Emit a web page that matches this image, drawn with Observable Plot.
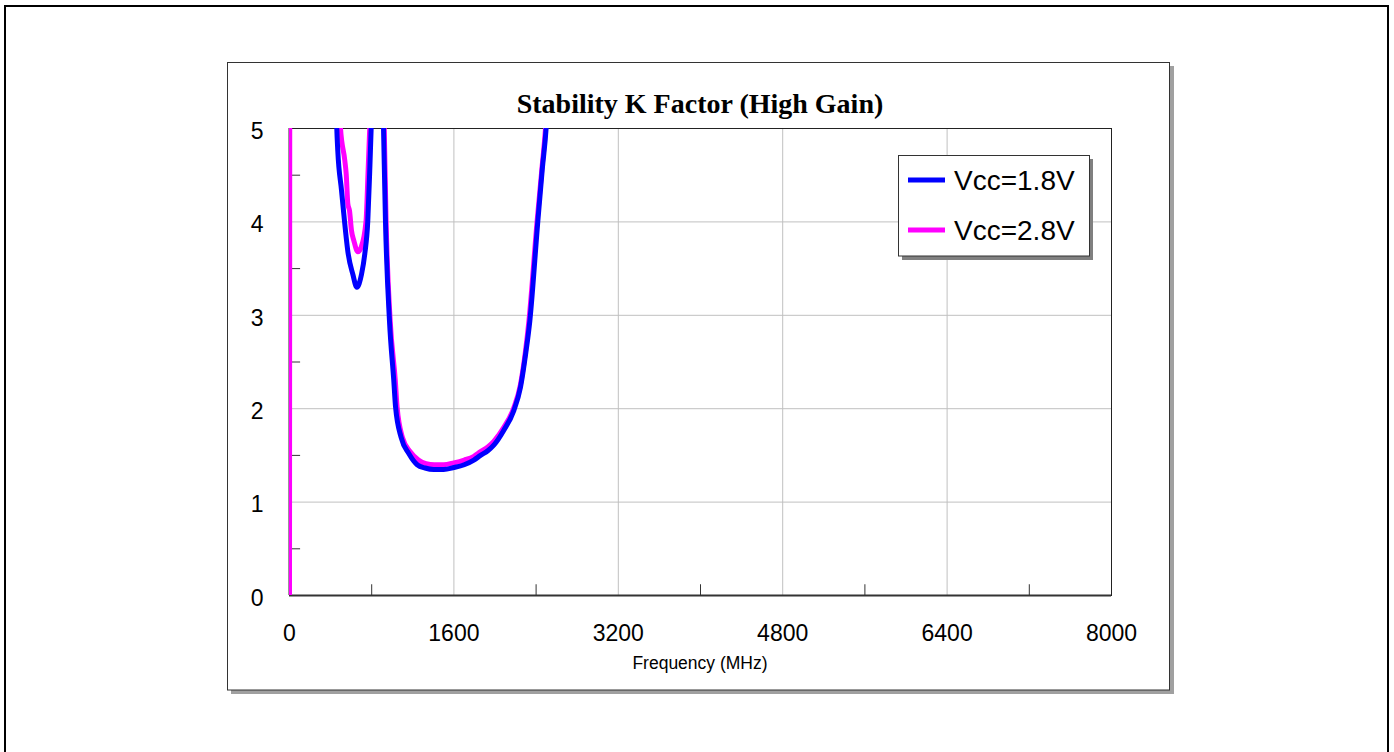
<!DOCTYPE html>
<html><head><meta charset="utf-8">
<script src="https://cdn.jsdelivr.net/npm/d3@7"></script>
<script src="https://cdn.jsdelivr.net/npm/@observablehq/plot@0.6"></script>
<style>html,body{margin:0;padding:0;background:#fff;overflow:hidden} svg{display:block}</style>
</head><body><div id="chart"></div>
<script>
// ---- data ----
const freq18 = [10, 420, 460, 470, 506, 528, 571, 616, 655, 701, 733, 762, 781, 795, 850, 915, 934, 973, 1015, 1032, 1087, 1161, 1243, 1320, 1404, 1500, 1599, 1700, 1794, 1859, 1930, 1988, 2086, 2183, 2248, 2300, 2339, 2417, 2459, 2498, 2600];
const k18    = [8, 8, 5.01, 4.76, 4.34, 4.09, 3.66, 3.44, 3.30, 3.44, 3.66, 4.01, 4.55, 5.01, 8, 5.01, 4.01, 2.94, 2.30, 2.02, 1.69, 1.52, 1.40, 1.365, 1.35, 1.35, 1.37, 1.40, 1.45, 1.50, 1.55, 1.61, 1.77, 1.98, 2.23, 2.60, 2.94, 4.01, 4.55, 5.01, 8];
const freq28 = [0, 5, 440, 496, 538, 552, 568, 584, 603, 626, 665, 698, 745, 765, 781, 850, 922, 940, 980, 1030, 1047, 1100, 1175, 1255, 1330, 1410, 1500, 1599, 1700, 1794, 1859, 1930, 1988, 2086, 2183, 2248, 2295, 2330, 2410, 2455, 2492, 2600];
const k28    = [0, 8, 8, 5.01, 4.66, 4.51, 4.19, 4.12, 3.91, 3.80, 3.68, 3.73, 4.01, 4.55, 5.01, 8, 5.01, 4.01, 2.94, 2.30, 2.02, 1.69, 1.54, 1.45, 1.41, 1.40, 1.40, 1.42, 1.45, 1.49, 1.54, 1.59, 1.65, 1.80, 2.01, 2.26, 2.60, 2.94, 4.01, 4.55, 5.01, 8];
const xTicks = [0, 1600, 3200, 4800, 6400, 8000];
const xMinor = [800, 2400, 4000, 5600, 7200];
const yTicks = [0, 1, 2, 3, 4, 5];
const yMinor = [0.5, 1.5, 2.5, 3.5, 4.5];
const seriesNames = ["Vcc=1.8V", "Vcc=2.8V"];
const seriesColors = ["#0000ff", "#ff00ff"];
const titleText = "Stability K Factor (High Gain)";
const xLabelText = "Frequency (MHz)";

const d18 = freq18.map((f, i) => ({f, k: k18[i]}));
const d28 = freq28.map((f, i) => ({f, k: k28[i]}));
const sans = "'Liberation Sans', Arial, sans-serif";

const plot = Plot.plot({
  width: 1394, height: 752,
  marginLeft: 289, marginRight: 283, marginTop: 128, marginBottom: 157,
  style: {background: "transparent", color: "#000", fontFamily: sans},
  x: {domain: [0, 8000]},
  y: {domain: [0, 5]},
  marks: [
    Plot.ruleX(xTicks.slice(1, -1), {stroke: "#c0c0c0", strokeWidth: 1}),
    Plot.ruleY(yTicks.slice(1, -1), {stroke: "#c0c0c0", strokeWidth: 1}),
    Plot.ruleX(xMinor, {y1: 0, y2: 0.115, stroke: "#333"}),
    Plot.ruleY(yMinor, {x1: 0, x2: 108, stroke: "#333"}),
    Plot.frame({stroke: "#222", strokeWidth: 1}),
    Plot.ruleX([0], {stroke: "#333", strokeWidth: 2}),
    Plot.ruleY([0], {stroke: "#333", strokeWidth: 2}),
    Plot.line(d28, {x: "f", y: "k", stroke: seriesColors[1], strokeWidth: 5, strokeLinejoin: "round", curve: "monotone-x", clip: true}),
    Plot.line(d18, {x: "f", y: "k", stroke: seriesColors[0], strokeWidth: 5, strokeLinejoin: "round", curve: "monotone-x", clip: true}),
    Plot.axisX(xTicks, {tickSize: 0, tickPadding: 29, fontSize: 23, fontFamily: sans, label: null, fill: "#000", tickFormat: d => String(d)}),
    Plot.axisY(yTicks, {tickSize: 0, tickPadding: 26, dy: 3, fontSize: 23, fontFamily: sans, label: null, fill: "#000", tickFormat: d => String(d)})
  ]
});

const svg = d3.select(plot);
const bg = svg.insert("g", ":first-child");
// outer frame
bg.append("rect").attr("x", 5).attr("y", 6).attr("width", 1383).attr("height", 800)
  .attr("fill", "#fff").attr("stroke", "#000").attr("stroke-width", 2);
// inner chart box with shadow
bg.append("rect").attr("x", 231).attr("y", 66).attr("width", 943).attr("height", 628).attr("fill", "#a0a0a0");
bg.append("rect").attr("x", 227.5).attr("y", 62.5).attr("width", 942).attr("height", 627.5)
  .attr("fill", "#fff").attr("stroke", "#333").attr("stroke-width", 1);

// title
svg.append("text").attr("x", 700).attr("y", 113).attr("text-anchor", "middle")
  .attr("font-family", "'Liberation Serif', 'Times New Roman', serif").attr("font-weight", "bold")
  .attr("font-size", 28).attr("fill", "#000").text(titleText);
// x label
svg.append("text").attr("x", 700).attr("y", 669).attr("text-anchor", "middle")
  .attr("font-family", sans).attr("font-size", 17.5).attr("fill", "#000").text(xLabelText);

// legend
const lg = svg.append("g");
lg.append("rect").attr("x", 902).attr("y", 159).attr("width", 191).attr("height", 101).attr("fill", "#808080");
lg.append("rect").attr("x", 898.5).attr("y", 155.5).attr("width", 191).attr("height", 100.5)
  .attr("fill", "#fff").attr("stroke", "#333").attr("stroke-width", 1);
seriesNames.forEach((name, i) => {
  const cy = 180 + i * 50;
  lg.append("line").attr("x1", 908).attr("x2", 945).attr("y1", cy).attr("y2", cy)
    .attr("stroke", seriesColors[i]).attr("stroke-width", 5);
  lg.append("text").attr("x", 954).attr("y", cy + 10).attr("text-anchor", "start").attr("font-family", sans)
    .attr("font-size", 28).attr("fill", "#000").text(name);
});

document.getElementById("chart").appendChild(plot);
</script>
</body></html>
